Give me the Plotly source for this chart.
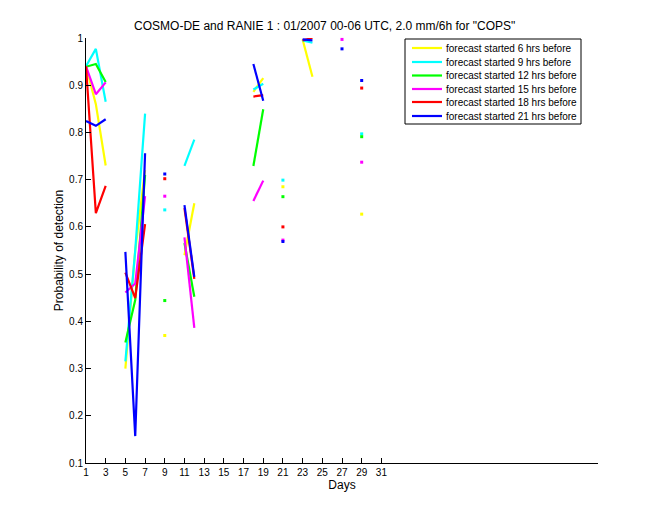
import plotly.graph_objects as go

days = list(range(1, 32))

def series(d):
    return [d.get(k) for k in days]

yellow = series({1: 0.94, 2: 0.86, 3: 0.73, 5: 0.30, 6: 0.55, 7: 0.72, 9: 0.37,
                 11: 0.54, 12: 0.65, 18: 0.886, 19: 0.915, 21: 0.685,
                 23: 0.997, 24: 0.918, 29: 0.627})
cyan = series({1: 0.94, 2: 0.977, 3: 0.865, 5: 0.315, 6: 0.55, 7: 0.84, 9: 0.636,
               11: 0.729, 12: 0.785, 18: 0.891, 19: 0.903, 21: 0.699,
               23: 0.995, 24: 0.99, 29: 0.797})
green = series({1: 0.939, 2: 0.945, 3: 0.907, 5: 0.355, 6: 0.445, 7: 0.71, 9: 0.444,
                11: 0.566, 12: 0.452, 18: 0.729, 19: 0.849, 21: 0.664, 29: 0.791})
magenta = series({1: 0.94, 2: 0.881, 3: 0.906, 5: 0.461, 6: 0.48, 7: 0.665, 9: 0.665,
                  11: 0.578, 12: 0.386, 18: 0.655, 19: 0.698, 21: 0.572,
                  27: 0.997, 29: 0.737})
red = series({1: 0.94, 2: 0.629, 3: 0.687, 5: 0.503, 6: 0.449, 7: 0.606, 9: 0.702,
              11: 0.64, 12: 0.49, 18: 0.876, 19: 0.879, 21: 0.600,
              23: 0.995, 24: 1.0, 29: 0.894})
blue = series({1: 0.824, 2: 0.814, 3: 0.828, 5: 0.547, 6: 0.157, 7: 0.756, 9: 0.712,
               11: 0.646, 12: 0.494, 18: 0.945, 19: 0.867, 21: 0.569,
               23: 0.997, 24: 0.995, 27: 0.977, 29: 0.91})

names = ["forecast started 6 hrs before", "forecast started 9 hrs before",
         "forecast started 12 hrs before", "forecast started 15 hrs before",
         "forecast started 18 hrs before", "forecast started 21 hrs before"]
colors = ["#ffff00", "#00ffff", "#00ff00", "#ff00ff", "#ff0000", "#0000ff"]
data = [yellow, cyan, green, magenta, red, blue]

xticks = list(range(1, 32, 2))
yticks = [0.1, 0.2, 0.3, 0.4, 0.5, 0.6, 0.7, 0.8, 0.9, 1.0]
yticklabels = ["0.1", "0.2", "0.3", "0.4", "0.5", "0.6", "0.7", "0.8", "0.9", "1"]

fig = go.Figure()
for name, col, ys in zip(names, colors, data):
    fig.add_trace(go.Scatter(x=days, y=ys, mode="lines", name=name,
                             line=dict(color=col, width=2.2), cliponaxis=False,
                             showlegend=False))
    iso_x, iso_y = [], []
    for i, v in enumerate(ys):
        if v is None:
            continue
        prev_ = ys[i - 1] if i > 0 else None
        next_ = ys[i + 1] if i < len(ys) - 1 else None
        if prev_ is None and next_ is None:
            iso_x.append(days[i]); iso_y.append(v)
    fig.add_trace(go.Scatter(x=iso_x, y=iso_y, mode="markers", showlegend=False,
                             marker=dict(color=col, size=3, symbol="square"),
                             cliponaxis=False, name=name))

# MATLAB-style legend box (paper coordinates derived from pixel layout)
W, H = 660, 520
ml, mr, mt, mb = 86, 62, 38, 57
pw, ph = W - ml - mr, H - mt - mb

def px(x):
    return (x - ml) / pw

def py(y):
    return 1 - (y - mt) / ph

shapes = [dict(type="rect", xref="paper", yref="paper",
               x0=px(405), x1=px(581), y0=py(124), y1=py(39),
               line=dict(color="black", width=1), fillcolor="white", layer="above")]
annotations = []
row_y = [48, 62, 75.5, 89, 102, 116]
for name, col, ry in zip(names, colors, row_y):
    shapes.append(dict(type="line", xref="paper", yref="paper",
                       x0=px(412), x1=px(442), y0=py(ry), y1=py(ry),
                       line=dict(color=col, width=2.2), layer="above"))
    annotations.append(dict(text=name, xref="paper", yref="paper",
                            x=px(444), y=py(ry), xanchor="left", yanchor="middle",
                            showarrow=False, font=dict(size=10)))

fig.update_layout(
    width=W, height=H,
    paper_bgcolor="white", plot_bgcolor="white",
    margin=dict(l=ml, r=mr, t=mt, b=mb),
    font=dict(family="Liberation Sans, Arial, sans-serif", size=11, color="black"),
    title=dict(text='COSMO-DE and RANIE 1 : 01/2007 00-06 UTC, 2.0 mm/6h for "COPS"',
               x=0.492, xanchor="center", y=0.95, yanchor="middle",
               font=dict(size=12)),
    showlegend=False,
    shapes=shapes,
    annotations=annotations,
    xaxis=dict(range=[1, 53], tickvals=xticks, ticks="inside", ticklen=5,
               tickcolor="black", showline=True, linecolor="black", linewidth=1,
               showgrid=False, zeroline=False, tickfont=dict(size=10),
               title=dict(text="Days", font=dict(size=12), standoff=3)),
    yaxis=dict(range=[0.1, 1.0], tickvals=yticks, ticktext=yticklabels,
               ticks="inside", ticklen=5, tickcolor="black", showline=True,
               linecolor="black", linewidth=1, showgrid=False, zeroline=False,
               tickfont=dict(size=10),
               title=dict(text="Probability of detection", font=dict(size=12),
                          standoff=2)),
)

fig.write_html("out.html")
